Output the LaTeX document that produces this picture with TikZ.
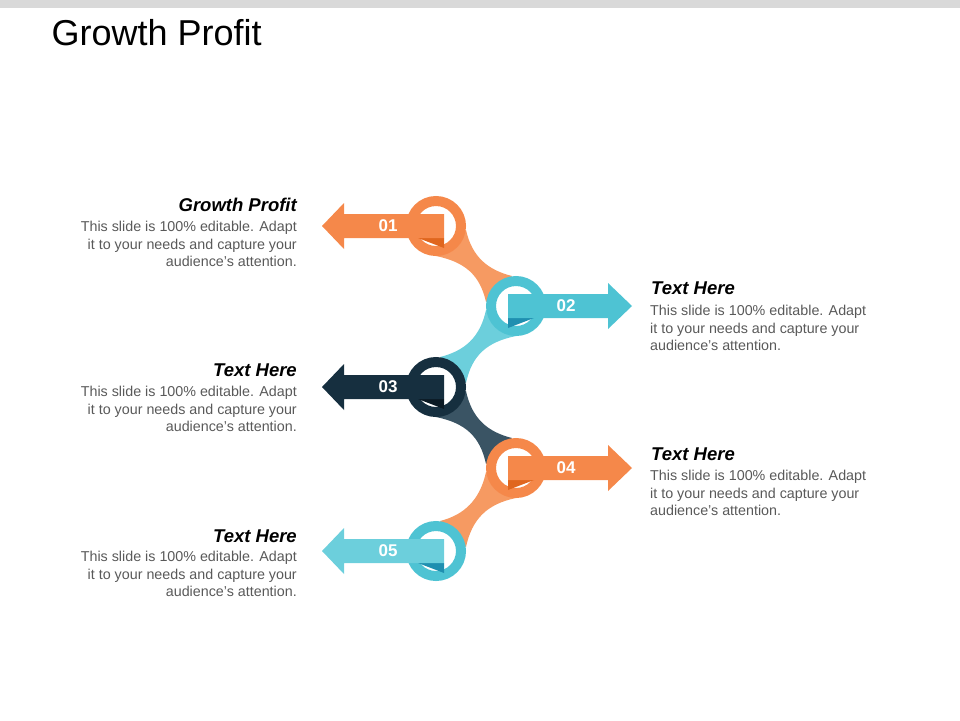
\documentclass[tikz,border=0pt]{standalone}
\usepackage{fontspec}
\setmainfont{Liberation Sans}
\usepackage{tikz}
\definecolor{orng}{HTML}{F5884A}
\definecolor{orngL}{HTML}{F69A62}
\definecolor{orngD}{HTML}{E0661E}
\definecolor{cyn}{HTML}{4EC3D3}
\definecolor{cynL}{HTML}{6CCFDC}
\definecolor{cynD}{HTML}{1F8FB0}
\definecolor{navy}{HTML}{162F3F}
\definecolor{navyL}{HTML}{3A5464}
\definecolor{navyD}{HTML}{0B1A24}
\definecolor{txtgray}{HTML}{595959}
\begin{document}
\begin{tikzpicture}[x=1pt,y=-1pt]
      \tikzstyle{head}=[font=\fontsize{18.5}{22}\selectfont\bfseries\itshape,inner sep=0pt];
      \tikzstyle{body}=[font=\fontsize{14.3}{17.5}\selectfont,text=txtgray,inner sep=0pt];
      \tikzstyle{num}=[font=\fontsize{17}{20}\selectfont\bfseries,text=white];
      \tikzstyle{ring}=[line width=10pt];

      \useasboundingbox (0,0) rectangle (960,720);
      \fill[gray!30] (0,0) rectangle (960,8);
      \node[anchor=west,font=\fontsize{36}{40}\selectfont](title) at (48,33) {Growth Profit};

      % links between the rings
      \fill[orngL] (436,256) .. controls (465,262) and (480,275) .. (486,302)
                    -- (512,276) .. controls (488,270) and (472,257) .. (466,230) -- cycle;
      \fill[cynL] (516,336) .. controls (487,342) and (472,355) .. (466,383)
                    -- (440,357) .. controls (464,351) and (480,338) .. (486,310) -- cycle;
      \fill[navyL] (436,417) .. controls (465,423) and (480,436) .. (486,464)
                    -- (512,438) .. controls (488,432) and (472,419) .. (466,391) -- cycle;
      \fill[orngL] (516,498) .. controls (487,504) and (472,519) .. (466,547)
                    -- (440,521) .. controls (464,515) and (480,500) .. (486,472) -- cycle;

      % rings
      \draw[ring,orng] (436,226) circle (25);
      \draw[ring,cyn] (516,306) circle (25);
      \draw[ring,navy] (436,387) circle (25);
      \draw[ring,orng] (516,468) circle (25);
      \draw[ring,cyn] (436,551) circle (25);

      % arrows
      \fill[orngD] (418,238) -- (444,238) -- (444,248) -- cycle;
      \fill[orng] (444,214) -- (344,214) -- (344,203) -- (322,226) -- (344,249) -- (344,238) -- (444,238) -- cycle;
      \node[num](n01) at (388,226) {01};

      \fill[cynD] (508,318) -- (534,318) -- (508,328) -- cycle;
      \fill[cyn] (508,294) -- (608,294) -- (608,283) -- (632,306) -- (608,329) -- (608,318) -- (508,318) -- cycle;
      \node[num](n02) at (566,306) {02};

      \fill[navyD] (418,399) -- (444,399) -- (444,409) -- cycle;
      \fill[navy] (444,375) -- (344,375) -- (344,364) -- (322,387) -- (344,410) -- (344,399) -- (444,399) -- cycle;
      \node[num](n03) at (388,387) {03};

      \fill[orngD] (508,480) -- (534,480) -- (508,490) -- cycle;
      \fill[orng] (508,456) -- (608,456) -- (608,445) -- (632,468) -- (608,491) -- (608,480) -- (508,480) -- cycle;
      \node[num](n04) at (566,468) {04};

      \fill[cynD] (418,563) -- (444,563) -- (444,573) -- cycle;
      \fill[cynL] (444,539) -- (344,539) -- (344,528) -- (322,551) -- (344,574) -- (344,563) -- (444,563) -- cycle;
      \node[num](n05) at (388,551) {05};

      % texts
      \node[head,anchor=east](h1) at (297,205) {Growth Profit};
      \node[body,anchor=north east,align=right](b1) at (297,221) {This slide is 100\% editable. Adapt\\it to your needs and capture your\\audience's attention.};
      \node[head,anchor=west](h2) at (651,288) {Text Here};
      \node[body,anchor=north west,align=left](b2) at (650,305) {This slide is 100\% editable. Adapt\\it to your needs and capture your\\audience's attention.};
      \node[head,anchor=east](h3) at (297,370) {Text Here};
      \node[body,anchor=north east,align=right](b3) at (297,386) {This slide is 100\% editable. Adapt\\it to your needs and capture your\\audience's attention.};
      \node[head,anchor=west](h4) at (651,454) {Text Here};
      \node[body,anchor=north west,align=left](b4) at (650,470) {This slide is 100\% editable. Adapt\\it to your needs and capture your\\audience's attention.};
      \node[head,anchor=east](h5) at (297,536) {Text Here};
      \node[body,anchor=north east,align=right](b5) at (297,551) {This slide is 100\% editable. Adapt\\it to your needs and capture your\\audience's attention.};

    \end{tikzpicture}
\end{document}
